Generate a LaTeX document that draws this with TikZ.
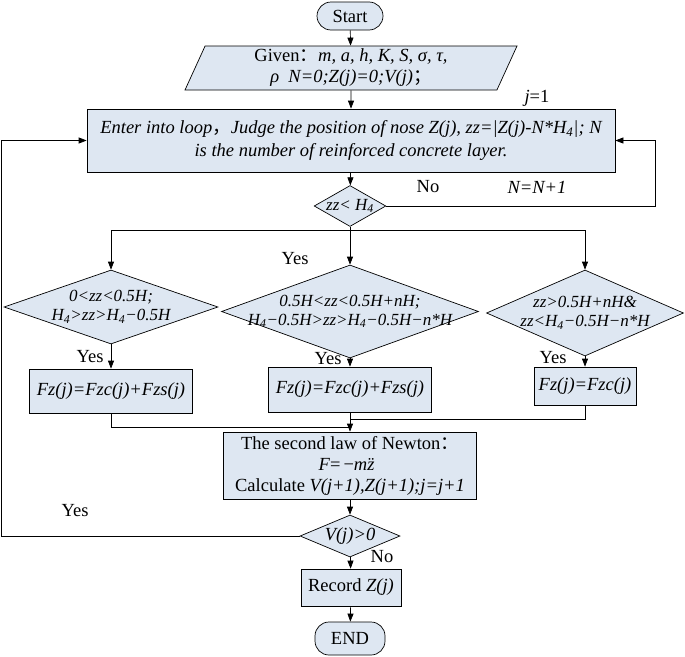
\documentclass[tikz,border=0pt]{standalone}
\usepackage{fontspec}
\setmainfont{Liberation Serif}
\newfontfamily\cjkfont{Noto Sans CJK SC}
\usetikzlibrary{shapes.geometric,arrows.meta}
\definecolor{boxfill}{RGB}{222,231,242}
\newcommand{\Hsub}{\textit{H}\textsubscript{4}}
\newcommand{\fw}[1]{{\cjkfont #1}}

\begin{document}
\begin{tikzpicture}%
[x=1pt, y=1pt, line width=0.7pt, font=\fontsize{18.5}{21}\selectfont,%
term/.style={draw, fill=boxfill, rounded corners=14pt, inner sep=0pt},%
io/.style={draw, fill=boxfill, trapezium, trapezium left angle=62, trapezium right angle=118, trapezium stretches body, align=center, inner sep=0pt},%
proc/.style={draw, fill=boxfill, align=center, inner sep=0pt},%
cond/.style={draw, fill=boxfill, diamond, align=center, inner sep=0pt, inner xsep=-30pt, font=\fontsize{17}{19}\selectfont\itshape},%
arr/.style={-{Triangle[length=8pt,width=6pt]}}]
\useasboundingbox (0,0) rectangle (685,-656);
\node[term, minimum width=66pt, minimum height=28pt] (start) at (350,-16) {Start};
\node[io, minimum width=332pt, minimum height=44pt] (given) at (351,-68)
  {Given\fw{：}\textit{m, a, h, K, S, σ, τ,}\\ \textit{ρ\enspace N=0;Z(j)=0;V(j)}\fw{；}};
\node (jlab) at (537,-98) {\textit{j}=1};
\node[proc, minimum width=528pt, minimum height=63pt, font=\fontsize{18.5}{23}\selectfont\itshape] (loop) at (351,-140.5)
  {Enter into loop\fw{，}Judge the position of nose Z(j), zz=|Z(j)-N*\Hsub|; N\\ is the number of reinforced concrete layer.};
\node[cond, inner xsep=0pt, shape aspect=1.75, minimum width=70pt, minimum height=40pt] (zchk) at (350,-206) {zz< \Hsub};
\node (nolab) at (428,-187) {No};
\node (nlab) at (537,-187) {\textit{N=N+1}};
\coordinate (rt) at (655,-206);
\coordinate (br) at (350,-230);
\node (yesmid) at (295,-259) {Yes};
\node[cond, shape aspect=2.89, minimum width=214pt, minimum height=74pt] (c1) at (111,-307)
  {0<zz<0.5H;\\ \Hsub>zz>\Hsub−0.5H};
\node[cond, shape aspect=2.76, minimum width=257pt, minimum height=93pt] (c2) at (350,-311.5)
  {0.5H<zz<0.5H+nH;\\ \Hsub−0.5H>zz>\Hsub−0.5H−n*H};
\node[cond, shape aspect=2.29, minimum width=197pt, minimum height=86pt] (c3) at (585,-313)
  {zz>0.5H+nH\&\\ zz<\Hsub−0.5H−n*H};
\node (yes1) at (90,-357) {Yes};
\node (yes2) at (328,-359) {Yes};
\node (yes3) at (553,-358) {Yes};
\node[proc, minimum width=163pt, minimum height=44pt, font=\fontsize{18.5}{21}\selectfont\itshape] (f1) at (111,-391) {Fz(j)=Fzc(j)+Fzs(j)};
\node[proc, minimum width=163pt, minimum height=45pt, font=\fontsize{18.5}{21}\selectfont\itshape] (f2) at (350,-389.5) {Fz(j)=Fzc(j)+Fzs(j)};
\node[proc, minimum width=102pt, minimum height=38pt, font=\fontsize{18.5}{21}\selectfont\itshape] (f3) at (585,-386) {Fz(j)=Fzc(j)};
\coordinate (jl) at (350,-427);
\coordinate (jr) at (350,-419);
\node[proc, minimum width=253pt, minimum height=67pt] (newton) at (350,-465.5)
  {The second law of Newton\fw{：}\\ \textit{F}=\,−\textit{m\"z}\\ Calculate \textit{V(j+1),Z(j+1);j=j+1}};
\node[cond, inner xsep=0pt, shape aspect=2.38, minimum width=100pt, minimum height=42pt, font=\fontsize{18.5}{21}\selectfont\itshape] (vchk) at (350,-536) {V(j)>0};
\coordinate (lt) at (1.5,-536);
\node (yes4) at (75,-511) {Yes};
\node (no2) at (382,-557) {No};
\node[proc, minimum width=100pt, minimum height=37pt] (rec) at (351,-587.5) {Record \textit{Z(j)}};
\node[term, minimum width=70pt, minimum height=33pt] (stop) at (350,-638.5) {END};
% connectors
\draw[arr] (start) -- (given);
\draw[arr] (given) -- (loop);
\draw[arr] (loop) -- (zchk);
\draw[arr] (zchk.east) -- (rt) |- (loop.east);
\draw (zchk.south) -- (br);
\draw[arr] (br) -| (c1.north);
\draw[arr] (br) -- (c2.north);
\draw[arr] (br) -| (c3.north);
\draw[arr] (c1) -- (f1);
\draw[arr] (c2) -- (f2);
\draw[arr] (c3) -- (f3);
\draw (f1.south) |- (jl);
\draw (f3.south) |- (jr);
\draw[arr] (f2) -- (newton);
\draw[arr] (newton) -- (vchk);
\draw[arr] (vchk.west) -- (lt) |- (loop.west);
\draw[arr] (vchk) -- (rec);
\draw[arr] (rec) -- (stop);
\end{tikzpicture}
\end{document}
